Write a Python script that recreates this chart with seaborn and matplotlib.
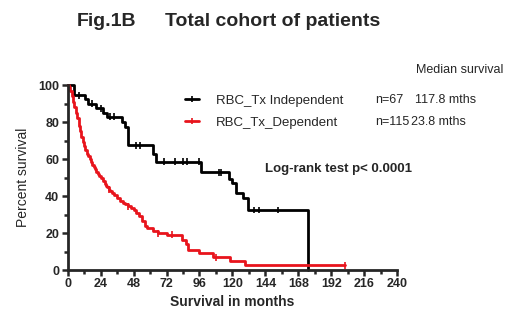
import numpy as np
import pandas as pd
import seaborn as sns
import matplotlib.pyplot as plt
from matplotlib.lines import Line2D
from matplotlib.ticker import MultipleLocator

# step curves: (months, percent survival)
indep_t = [0, 5, 12.5, 15, 21, 26, 28.5, 39.5, 42, 44, 62, 64, 97, 117.7, 119.4, 122.5, 128, 131, 175]
indep_s = [100, 94.5, 92.5, 90, 87.5, 85, 83, 80, 77.5, 67.5, 63, 58.5, 53, 49.5, 47, 41.5, 39, 32.5, 0]
indep_cens = [8, 18, 24, 31, 34, 50, 53, 70, 78, 84, 87, 96, 110, 112, 136, 139, 153]

dep_t = [0, 1, 2, 3, 4, 5, 6, 7, 8, 9, 10, 11, 12, 13, 14, 15, 16, 17, 18, 19, 20, 21, 22, 23,
         24, 26, 27, 28, 29, 30, 31, 32, 34, 36, 38, 40, 42, 44, 46, 48, 50, 52, 54, 56, 58,
         62, 66, 72, 83, 86, 88, 96, 106, 118, 129.5, 202]
dep_s = [100, 99, 97, 94, 91, 88, 85, 82, 78, 75, 72, 69, 67, 65, 63, 61.5, 60, 58.5, 57, 56,
         54.5, 53, 52, 51, 50, 48, 46.5, 45.5, 45, 43.5, 42.5, 41.5, 40.5, 39, 37.5, 36.5, 35.5,
         34.5, 33.5, 32.5, 31, 29, 26.5, 24, 22.5, 21, 20, 19, 16.2, 14, 11, 9, 7, 4.7, 2.7, 2.7]
dep_cens = [30, 44, 66, 76, 108, 202]

groups = ["RBC_Tx Independent", "RBC_Tx_Dependent"]
n_patients = ["n=67", "n=115"]
medians = ["117.8 mths", "23.8 mths"]
colors = ["black", "#e8141c"]


def step_value(times, surv, t):
    idx = np.searchsorted(times, t, side="right") - 1
    return np.asarray(surv)[idx]


curves = pd.concat([
    pd.DataFrame({"months": indep_t, "survival": indep_s, "group": groups[0]}),
    pd.DataFrame({"months": dep_t, "survival": dep_s, "group": groups[1]}),
])
cens = pd.concat([
    pd.DataFrame({"months": indep_cens, "survival": step_value(indep_t, indep_s, indep_cens), "group": groups[0]}),
    pd.DataFrame({"months": dep_cens, "survival": step_value(dep_t, dep_s, dep_cens), "group": groups[1]}),
])

sns.set_theme(style="ticks")
plt.rcParams["font.family"] = ["Liberation Sans", "DejaVu Sans"]

fig = plt.figure(figsize=(5.2, 3.25), dpi=100)
ax = fig.add_axes([0.13, 0.169, 0.634, 0.569])

pal = dict(zip(groups, colors))
sns.lineplot(data=curves, x="months", y="survival", hue="group", palette=pal,
             estimator=None, sort=False, drawstyle="steps-post", linewidth=2,
             legend=False, ax=ax, clip_on=False)
sns.scatterplot(data=cens, x="months", y="survival", hue="group", palette=pal,
                marker="|", s=25, linewidth=1.2, legend=False, ax=ax, clip_on=False, zorder=3)

ax.set_xlim(0, 240)
ax.set_ylim(0, 100)
ax.xaxis.set_major_locator(MultipleLocator(24))
ax.xaxis.set_minor_locator(MultipleLocator(12))
ax.yaxis.set_major_locator(MultipleLocator(20))
ax.yaxis.set_minor_locator(MultipleLocator(10))
ax.tick_params(which="major", length=4, width=1.8, labelsize=9, pad=2)
ax.tick_params(which="minor", length=3, width=1.8)
for lab in ax.get_xticklabels() + ax.get_yticklabels():
    lab.set_fontweight("bold")
for side in ["left", "bottom"]:
    ax.spines[side].set_linewidth(2)
sns.despine(ax=ax)
ax.set_xlabel("Survival in months", fontsize=10, fontweight="bold", labelpad=3)
ax.set_ylabel("Percent survival", fontsize=10, labelpad=6)

handles = [Line2D([0], [0], color=c, lw=2, marker="|", markersize=5, markeredgewidth=1.2) for c in colors]
fig.legend(handles, groups, loc="upper left", bbox_to_anchor=(0.345, 0.725), frameon=False,
           fontsize=9.5, handlelength=1.1, handletextpad=1.3, labelspacing=0.75, borderaxespad=0)

rows_y = [1 - 100 / 325, 1 - 122 / 325]
med_x = [415, 411]
for y, n, m, mx in zip(rows_y, n_patients, medians, med_x):
    fig.text(375 / 520, y, n, fontsize=9, va="center")
    fig.text(mx / 520, y, m, fontsize=9, va="center")
fig.text(416 / 520, 1 - 70 / 325, "Median survival", fontsize=9, va="center")
fig.text(265 / 520, 1 - 169 / 325, "Log-rank test p< 0.0001", fontsize=9.5, fontweight="bold", va="center")

fig.text(77 / 520, 1 - 21 / 325, "Fig.1B", fontsize=14, fontweight="bold", va="center")
fig.text(165 / 520, 1 - 21 / 325, "Total cohort of patients", fontsize=14, fontweight="bold", va="center")

fig.savefig("out.png", dpi=100)
plt.close(fig)
